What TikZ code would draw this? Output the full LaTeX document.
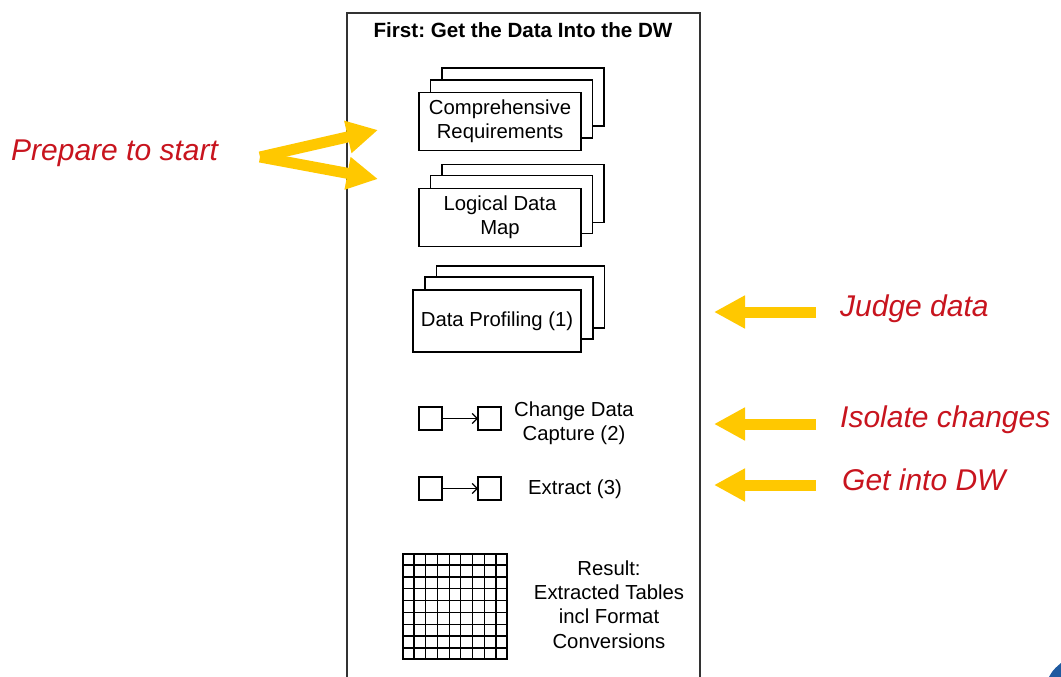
\documentclass[tikz,border=0pt]{standalone}
\usepackage{fontspec}
\setmainfont{Liberation Sans}
\usetikzlibrary{arrows.meta,calc}
\definecolor{hlred}{RGB}{200,20,30}
\definecolor{hlyellow}{RGB}{255,200,0}
\definecolor{logoblue}{RGB}{30,90,160}
\frenchspacing
\begin{document}
\begin{tikzpicture}[x=1pt,y=-1pt,
  box/.style={draw=black,line width=1.3pt,fill=white,inner sep=0pt,outer sep=0pt},
  bigbox/.style={box,minimum width=162pt,minimum height=58pt},
  dpbox/.style={box,minimum width=168pt,minimum height=62pt},
  smallbox/.style={box,minimum width=23pt,minimum height=23pt},
  lbl/.style={font=\fontsize{20.3}{24.3}\selectfont,align=center,text=black},
  note/.style={font=\fontsize{30}{35}\selectfont\itshape,text=hlred,anchor=west,inner sep=0pt},
  fat/.style={draw=hlyellow,line width=11pt,-{Triangle[length=31pt,width=31pt]}},
  thinarr/.style={draw=black,line width=1.2pt,-{Straight Barb[length=5pt,width=10pt]}}
]
\useasboundingbox (0,0) rectangle (1061,677);
\begin{scope}
\clip (0,0) rectangle (1061,677);
\fill[white] (0,0) rectangle (1061,677);
\draw[line width=1.5pt,black!80] (347,13) rectangle (700,700);

\node[font=\fontsize{20.6}{24}\selectfont\bfseries,text=black] (title) at (523,30) {First: Get the Data Into the DW};

% Comprehensive Requirements stack
\node[bigbox] (cr3) at (523,97) {};
\node[bigbox] (cr2) at (511.5,109) {};
\node[bigbox,lbl] (cr) at (500,121.5) {Comprehensive\\Requirements};

% Logical Data Map stack
\node[bigbox] (ldm3) at (523,193.5) {};
\node[bigbox] (ldm2) at (511.5,204.5) {};
\node[bigbox,lbl] (ldm) at (500,217.5) {Logical Data\\Map};

% Data Profiling stack
\node[dpbox] (dp3) at (520.5,297) {};
\node[dpbox] (dp2) at (509,308) {};
\node[dpbox,lbl] (dp) at (497,321) {Data Profiling (1)};

% Change data capture
\node[smallbox] (c1) at (430.5,418.5) {};
\node[smallbox] (c2) at (489.5,418.5) {};
\draw[thinarr] (c1) -- (c2);
\node[lbl] (cdc) at (574,423) {Change Data\\Capture (2)};

% Extract
\node[smallbox] (e1) at (430.5,488.5) {};
\node[smallbox] (e2) at (489.5,488.5) {};
\draw[thinarr] (e1) -- (e2);
\node[lbl] (ext) at (575,489) {Extract (3)};

% Grid
\node[draw=black,line width=1.5pt,minimum width=104pt,minimum height=105pt,inner sep=0pt] (grid) at (455,606.5) {};
\foreach \i in {1,...,8} {
  \draw[line width=1.2pt] ($(grid.north west)!\i/9!(grid.north east)$) -- ($(grid.south west)!\i/9!(grid.south east)$);
  \draw[line width=1.2pt] ($(grid.north west)!\i/9!(grid.south west)$) -- ($(grid.north east)!\i/9!(grid.south east)$);
}
\node[lbl] (res) at (609,604.5) {Result:\\Extracted Tables\\incl Format\\Conversions};

% Notes and yellow arrows
\node[note] (prep) at (11,153) {Prepare to start};
\coordinate (papex) at (260,157);
\coordinate (pt1) at (378,130);
\coordinate (pt2) at (378,179);
\draw[fat] (papex) -- (pt1);
\draw[fat] (papex) -- (pt2);

\node[note] (judge) at (840,309) {Judge data};
\coordinate (js) at (816,312);
\coordinate (jt) at (714,312);
\draw[fat] (js) -- (jt);

\node[note] (iso) at (840,420) {Isolate changes};
\coordinate (is) at (816,424);
\coordinate (it) at (714,424);
\draw[fat] (is) -- (it);

\node[note] (get) at (842,480) {Get into DW};
\coordinate (gs) at (816,485);
\coordinate (gt) at (714,485);
\draw[fat] (gs) -- (gt);

% corner logo fragment
\fill[logoblue] (1049,677) .. controls (1053,670) .. (1061,663) -- (1061,677) -- cycle;
\end{scope}
\end{tikzpicture}
\end{document}
